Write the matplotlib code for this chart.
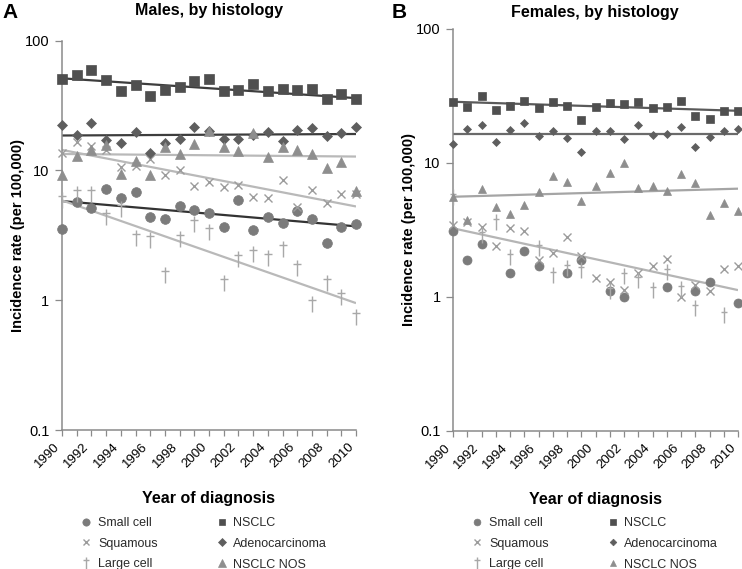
import numpy as np
import matplotlib
matplotlib.use('Agg')
import matplotlib.pyplot as plt
from matplotlib.path import Path

plt.rcParams['font.family'] = ['Liberation Sans', 'DejaVu Sans']

nan = np.nan

# Years of diagnosis
years = list(range(1990, 2011))
tick_years = list(range(1990, 2011, 2))

# Series names (legend order: first column, then second column)
series = ['Small cell', 'Squamous', 'Large cell', 'NSCLC', 'Adenocarcinoma', 'NSCLC NOS']

# Males, incidence per 100,000
m_small = [3.56, 5.67, 5.13, 7.18, 6.16, 6.81, 4.38, 4.25, 5.35, 4.92, 4.67,
           3.66, 5.95, 3.45, 4.38, 3.96, 4.87, 4.25, 2.78, 3.66, 3.87]
m_squam = [13.7, 16.5, 15.4, 14.3, 10.6, 10.9, 12.2, 9.2, 10.1, 7.6, 8.1,
           7.4, 7.7, 6.2, 6.1, 8.5, 5.2, 7.1, 5.6, 6.6, 6.6]
m_large = [5.9, 6.6, 6.6, 4.38, 5.07, 3.03, 2.93, 1.57, 2.98, 3.89, 3.35,
           1.36, 2.09, 2.29, 2.13, 2.50, 1.78, 0.94, 1.36, 1.06, 0.74]
m_nsclc = [50.7, 54.8, 59.5, 49.8, 41.2, 45.3, 37.5, 42.0, 44.0, 48.7, 51.0,
           41.2, 41.5, 46.4, 40.8, 42.7, 42.0, 42.2, 35.6, 38.9, 35.8]
m_adeno = [22.6, 18.9, 23.4, 17.2, 16.2, 19.9, 13.6, 16.2, 17.5, 21.5, 20.0,
           17.5, 17.5, 18.6, 19.7, 16.8, 20.6, 21.2, 18.3, 19.5, 21.5]
m_nos = [9.3, 13.0, 14.3, 15.6, 9.4, 11.8, 9.2, 15.1, 13.4, 16.0, 20.1,
         15.1, 14.1, 19.4, 12.8, 15.1, 14.4, 13.3, 10.4, 11.7, 7.0]

# Males, fitted trend values at 1990 and 2010
m_trend_1990 = [5.81, 14.4, 5.88, 51.3, 18.6, 13.4]
m_trend_2010 = [3.71, 5.28, 0.95, 36.1, 19.1, 12.8]

# Females, incidence per 100,000
f_small = [3.09, 1.89, 2.49, nan, 1.50, 2.19, 1.69, nan, 1.50, 1.89, nan,
           1.10, 1.00, nan, nan, 1.19, nan, 1.10, 1.29, nan, 0.89]
f_squam = [3.43, 3.63, 3.33, 2.40, 3.27, 3.09, 1.88, 2.11, 2.80, 2.01, 1.39,
           1.29, 1.12, 1.51, 1.69, 1.90, 1.00, 1.22, 1.11, 1.60, 1.69]
f_large = [5.5, nan, 2.88, 3.63, 1.99, nan, 2.30, 1.45, 1.63, 1.58, nan,
           1.10, 1.43, 1.33, 1.13, 1.54, 1.15, 0.83, nan, 0.73, nan]
f_nsclc = [28.4, 26.0, 31.5, 24.7, 26.3, 28.7, 25.7, 28.5, 26.5, 20.8, 25.9,
           28.1, 27.6, 28.2, 25.4, 25.9, 28.8, 22.2, 21.2, 24.4, 24.3]
f_adeno = [13.9, 17.7, 19.1, 14.3, 17.5, 19.9, 15.7, 17.3, 15.3, 12.1, 17.2,
           17.3, 15.1, 19.0, 16.0, 16.4, 18.6, 13.2, 15.6, 17.3, 17.8]
f_nos = [5.57, 3.73, 6.32, 4.64, 4.14, 4.86, 6.08, 7.91, 7.18, 5.17, 6.73,
         8.42, 9.89, 6.43, 6.73, 6.15, 8.23, 7.02, 4.10, 5.02, 4.38]

# Females, fitted trend values (only four lines drawn)
f_trend_1990 = [nan, 3.24, nan, 28.5, 16.4, 5.57]
f_trend_2010 = [nan, 1.12, nan, 24.4, 16.4, 6.40]

# thin dagger marker: vertical stroke with a crossbar near the top
dagger = Path([(0, -1), (0, 1), (-0.45, 0.45), (0.45, 0.45)],
              [Path.MOVETO, Path.LINETO, Path.MOVETO, Path.LINETO])

# Marker styles per series
markers = ['o', 'x', dagger, 's', 'D', '^']
marker_colors = ['#7b7b7b', '#9c9c9c', '#a8a8a8', '#4f4f4f', '#5e5e5e', '#8e8e8e']
m_sizes = [7, 6, 12, 6.5, 5, 7]
f_sizes = [6.5, 5.5, 11, 6, 4.5, 6]
# Trend line colours
m_line_colors = ['#333333', '#b9b9b9', '#b9b9b9', '#3d3d3d', '#3d3d3d', '#b9b9b9']
f_line_colors = [None, '#b5b5b5', None, '#5a5a5a', '#6a6a6a', '#a5a5a5']

spine_grey = '#8a8a8a'

fig = plt.figure(figsize=(7.42, 5.69), dpi=100)
ax1 = fig.add_axes([62 / 742, 139 / 569, 294 / 742, 389.3 / 569])
ax2 = fig.add_axes([453 / 742, 138.3 / 569, 285 / 742, 402 / 569])


def draw_panel(ax, data, t0, t1, sizes, line_colors):
    handles = []
    # trend lines first, markers on top
    for i in range(len(data)):
        if not np.isnan(t0[i]):
            ax.plot([years[0], years[-1]], [t0[i], t1[i]], color=line_colors[i],
                    lw=1.6, zorder=2, solid_capstyle='butt')
    for i, vals in enumerate(data):
        mew = 0.5
        if markers[i] == 'x' or i == 2:
            mew = 1.0
        h, = ax.plot(years, vals, linestyle='none', marker=markers[i], ms=sizes[i],
                     color=marker_colors[i], mec=marker_colors[i], mew=mew,
                     clip_on=False, zorder=3, label=series[i])
        handles.append(h)

    ax.set_yscale('log')
    ax.set_ylim(0.1, 100)
    ax.set_xlim(1990, 2010)
    ax.set_yticks([0.1, 1, 10, 100])
    ax.set_yticklabels(['0.1', '1', '10', '100'])
    ax.minorticks_off()
    ax.set_xticks(tick_years)
    ax.set_xticks(years, minor=True)
    ax.set_xticklabels([str(y) for y in tick_years], rotation=45, ha='right')
    ax.tick_params(axis='x', which='both', length=4, width=0.9, color=spine_grey,
                   labelsize=9.5, pad=4)
    ax.tick_params(axis='y', length=5, width=0.9, color=spine_grey, labelsize=10.5, pad=4)
    for side in ['top', 'right']:
        ax.spines[side].set_visible(False)
    for side in ['left', 'bottom']:
        ax.spines[side].set_color(spine_grey)
        ax.spines[side].set_linewidth(1.1)
    ax.set_xlabel('Year of diagnosis', fontsize=11.5, fontweight='bold', labelpad=15)
    ax.set_ylabel('Incidence rate (per 100,000)', fontsize=10.5, fontweight='bold', labelpad=0)
    return handles


h1 = draw_panel(ax1, [m_small, m_squam, m_large, m_nsclc, m_adeno, m_nos],
                m_trend_1990, m_trend_2010, m_sizes, m_line_colors)
h2 = draw_panel(ax2, [f_small, f_squam, f_large, f_nsclc, f_adeno, f_nos],
                f_trend_1990, f_trend_2010, f_sizes, f_line_colors)

# Panel titles and letters
fig.text(209 / 742, 1 - 11 / 569, 'Males, by histology', fontsize=11.5,
         fontweight='bold', ha='center', va='center')
fig.text(595 / 742, 1 - 12 / 569, 'Females, by histology', fontsize=11.5,
         fontweight='bold', ha='center', va='center')
fig.text(2 / 742, 1 - 13 / 569, 'A', fontsize=15, fontweight='bold', va='center')
fig.text(392 / 742, 1 - 13 / 569, 'B', fontsize=15, fontweight='bold', va='center')

# Legends below each panel
for handles, x0 in [(h1, 80), (h2, 471)]:
    fig.legend(handles=handles, ncol=2, loc='upper left', frameon=False,
               bbox_to_anchor=(x0 / 742, 1 - 517 / 569), bbox_transform=fig.transFigure,
               fontsize=9, markerscale=0.75, handlelength=1.0, handletextpad=0.45,
               labelspacing=0.7, columnspacing=4.6, borderpad=0, borderaxespad=0,
               labelcolor='#2a2a2a')

fig.savefig('out.png', dpi=100)
